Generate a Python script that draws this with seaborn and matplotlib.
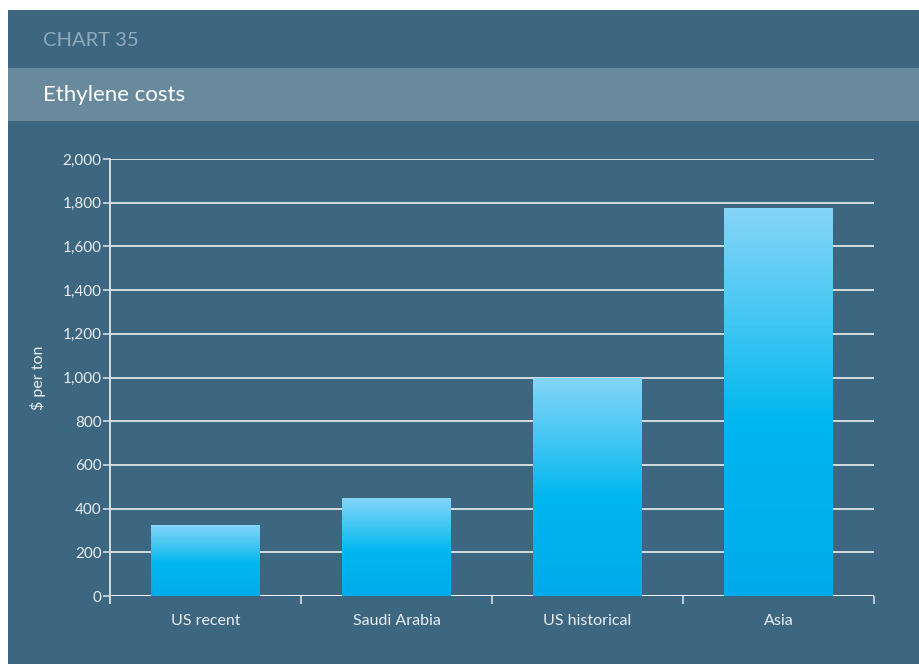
import numpy as np
import pandas as pd
import matplotlib
matplotlib.use('Agg')
import matplotlib.pyplot as plt
from matplotlib.colors import LinearSegmentedColormap
from matplotlib.patches import Rectangle
from matplotlib.ticker import FuncFormatter, FixedLocator
import seaborn as sns

# data
categories = ['US recent', 'Saudi Arabia', 'US historical', 'Asia']
costs = [325, 450, 1000, 1775]
y_ticks = [0, 200, 400, 600, 800, 1000, 1200, 1400, 1600, 1800, 2000]

chart_label = 'CHART 35'
title = 'Ethylene costs'
y_label = '$ per ton'

df = pd.DataFrame({'Region': categories, 'Cost': costs})

W, H = 919, 664
BG = '#3d6680'
BAND = '#688a9c'
GRID = '#d3dce2'
TEXT = '#e8eef2'

sns.set_theme(style='white')
plt.rcParams['font.family'] = ['Lato', 'DejaVu Sans']

fig = plt.figure(figsize=(W / 100, H / 100), dpi=100, facecolor='white')

# background panel and title band
fig.patches.append(Rectangle((8 / W, 0), 1 - 8 / W, 1 - 10 / H, transform=fig.transFigure,
                             facecolor=BG, edgecolor='none', zorder=-2))
fig.patches.append(Rectangle((8 / W, 1 - 121 / H), 1 - 8 / W, 53 / H, transform=fig.transFigure,
                             facecolor=BAND, edgecolor='none', zorder=-1))
fig.text(43 / W, 1 - 41 / H, chart_label, color='#8eaabb', fontsize=14.5, va='center', ha='left')
fig.text(43 / W, 1 - 95 / H, title, color='white', fontsize=16, va='center', ha='left')

# axes area: left 110, right 874, top (2000) 159, bottom (0) 596
ax = fig.add_axes([110 / W, 1 - 596 / H, (874 - 110) / W, (596 - 159) / H])
ax.set_facecolor('none')

sns.barplot(data=df, x='Region', y='Cost', ax=ax, width=0.57, color='#00b4ee',
            saturation=1, errorbar=None, zorder=3)

# gradient fill clipped to each bar
grad = LinearSegmentedColormap.from_list('bar', [(0, '#00abeb'), (0.45, '#00b7ef'),
                                                 (0.7, '#3fc6f3'), (1, '#86d5f7')])
gimg = np.linspace(0, 1, 256).reshape(-1, 1)
for bar in ax.patches:
    x0, y0 = bar.get_x(), bar.get_y()
    w, h = bar.get_width(), bar.get_height()
    bar.set_facecolor('none')
    bar.set_edgecolor('none')
    im = ax.imshow(gimg, cmap=grad, origin='lower', aspect='auto',
                   extent=[x0, x0 + w, y0, y0 + h], zorder=3)
    im.set_clip_path(bar)

ax.set_xlim(-0.5, 3.5)
ax.set_ylim(0, 2000)

# grid lines
for t in y_ticks:
    ax.axhline(t, color='white' if t == 0 else GRID, lw=1.4, zorder=2)

sns.despine(ax=ax, left=False, bottom=True, right=True, top=True)
ax.spines['left'].set_color(GRID)
ax.spines['left'].set_linewidth(1.4)
ax.spines['left'].set_bounds(-30, 2000)
ax.spines['left'].set_zorder(2)

ax.yaxis.set_major_locator(FixedLocator(y_ticks))
ax.yaxis.set_major_formatter(FuncFormatter(lambda v, p: f'{int(v):,}'))
ax.tick_params(axis='y', which='major', direction='out', length=5, width=1.2,
               color=GRID, labelcolor=TEXT, labelsize=11, pad=1, left=True)

# x labels at category centres, tick marks at boundaries
ax.set_xticks(range(len(categories)))
ax.set_xticklabels(categories)
ax.set_xticks(np.arange(-0.5, len(categories)), minor=True)
ax.tick_params(axis='x', which='major', length=0, labelcolor=TEXT, labelsize=11.5, pad=13)
ax.tick_params(axis='x', which='minor', direction='out', length=6, width=1.2,
               color=GRID, bottom=True)

ax.set_xlabel('')
ax.set_ylabel(y_label, color=TEXT, fontsize=11.5, labelpad=12)
ax.grid(False)

fig.savefig('out.png', dpi=100, facecolor='white')
